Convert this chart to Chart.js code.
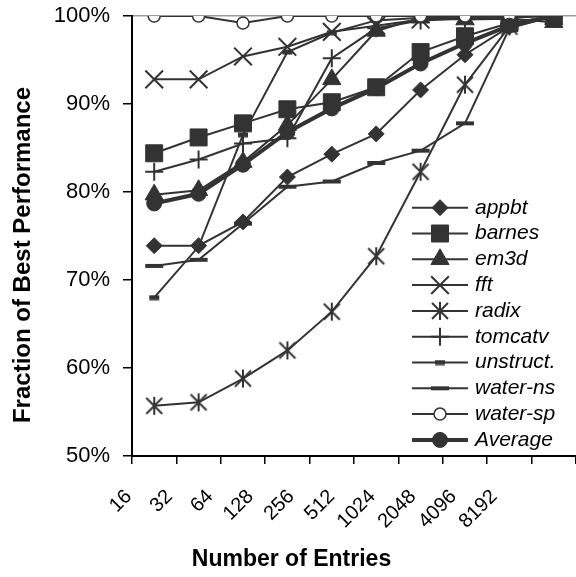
<!DOCTYPE html>
<html>
<head>
<meta charset="utf-8">
<script src="https://cdn.jsdelivr.net/npm/chart.js@4/dist/chart.umd.min.js"></script>
<style>
  html, body { margin: 0; padding: 0; background: #fff; }
  canvas { display: block; }
</style>
</head>
<body>
<canvas id="chart" width="576" height="577"></canvas>
<script>
// values (percent of best performance)
const entries = ["16", "32", "64", "128", "256", "512", "1024", "2048", "4096", "8192"];
const yTicks = [50, 60, 70, 80, 90, 100];

const appbt    = [73.9, 73.9, 76.6, 81.7, 84.3, 86.6, 91.6, 95.6, 98.8, 100];
const barnes   = [84.4, 86.2, 87.8, 89.4, 90.2, 91.9, 95.9, 97.7, 99.2, 100];
const em3d     = [79.7, 80.2, 83.4, 87.6, 92.8, 98.3, 99.8, 99.6, 99.7, 99.3];
const fft      = [92.8, 92.8, 95.4, 96.5, 98.2, 98.9, 99.6, 100, 100, 100];
const radix    = [55.7, 56.1, 58.8, 62.0, 66.4, 72.7, 82.3, 92.2, 98.8, 100];
const tomcatv  = [82.3, 83.7, 85.5, 86.1, 95.2, 98.6, 99.5, 99.7, 99.8, 100];
const unstruct = [68.0, 73.8, 86.5, 95.9, 98.1, 99.5, 99.8, 99.8, 100, 100];
const waterNs  = [71.6, 72.3, 76.4, 80.6, 81.2, 83.3, 84.7, 87.8, 98.6, 100];
const waterSp  = [100, 100, 99.2, 100, 100, 100, 100, 100, 100, 100];
const average  = [78.7, 79.8, 83.1, 86.8, 89.5, 91.8, 94.6, 96.9, 98.9, 100];

const ink = "#333333";
const fontFamily = "'Liberation Sans', Arial, Helvetica, sans-serif";

// marker shapes chart.js does not have
function makeMarker(w, h, draw) {
    const c = document.createElement("canvas");
    c.width = w; c.height = h;
    const g = c.getContext("2d");
    g.strokeStyle = ink; g.fillStyle = ink; g.lineWidth = 2;
    draw(g, w, h);
    return c;
}
const starMarker = makeMarker(20, 20, (g) => {
    g.beginPath();
    g.moveTo(2, 2); g.lineTo(18, 18);
    g.moveTo(18, 2); g.lineTo(2, 18);
    g.moveTo(10, 1); g.lineTo(10, 19);
    g.stroke();
});
const smallDash = makeMarker(12, 6, (g) => g.fillRect(1, 0.5, 10, 5));
const wideDash  = makeMarker(20, 6, (g) => g.fillRect(1, 1, 18, 4));

function series(label, data, style, radius, extra) {
    return Object.assign({
        label: label,
        data: data,
        borderColor: ink,
        borderWidth: 2,
        pointStyle: style,
        pointRadius: radius,
        pointHoverRadius: radius,
        pointBackgroundColor: ink,
        pointBorderColor: ink,
        pointBorderWidth: 1,
        tension: 0,
        fill: false
    }, extra || {});
}

const datasets = [
    series("appbt", appbt, "rectRot", 8),
    series("barnes", barnes, "rect", 12),
    series("em3d", em3d, "triangle", 10.5),
    series("fft", fft, "crossRot", 12.5, { pointBorderWidth: 2 }),
    series("radix", radix, starMarker, 10),
    series("tomcatv", tomcatv, "cross", 9, { pointBorderWidth: 2 }),
    series("unstruct.", unstruct, smallDash, 6),
    series("water-ns", waterNs, wideDash, 9),
    series("water-sp", waterSp, "circle", 6, { pointBackgroundColor: "#ffffff", pointBorderWidth: 1.5 }),
    series("Average", average, "circle", 7.5, { borderWidth: 4 })
];
// later series on top, like the original
datasets.forEach((d, i) => { d.order = datasets.length - i; });

// legend drawn inside the plot, bottom right
const insideLegend = {
    id: "insideLegend",
    afterDraw(chart) {
        const ctx = chart.ctx;
        const area = chart.chartArea;
        const x0 = area.right - 164, x1 = area.right - 108, xm = (x0 + x1) / 2, xt = area.right - 101;
        ctx.save();
        chart.data.datasets.forEach((ds, i) => {
            const y = 207.7 + i * 25.8;
            ctx.strokeStyle = ink;
            ctx.lineWidth = ds.borderWidth;
            ctx.beginPath();
            ctx.moveTo(x0, y);
            ctx.lineTo(x1, y);
            ctx.stroke();
            ctx.fillStyle = ds.pointBackgroundColor;
            ctx.strokeStyle = ink;
            ctx.lineWidth = ds.pointBorderWidth;
            Chart.helpers.drawPoint(ctx, {
                pointStyle: ds.pointStyle, radius: ds.pointRadius, rotation: 0, borderWidth: ds.pointBorderWidth
            }, xm, y);
            ctx.fillStyle = "#000";
            ctx.font = "italic 21px " + fontFamily;
            ctx.textAlign = "left";
            ctx.textBaseline = "middle";
            ctx.fillText(ds.label, xt, y);
        });
        ctx.restore();
    }
};

// axis titles sit off-centre in the original, so they are placed by hand
const axisTitles = {
    id: "axisTitles",
    afterDraw(chart) {
        const ctx = chart.ctx;
        ctx.save();
        ctx.fillStyle = "#000";
        ctx.font = "bold 23px " + fontFamily;
        ctx.textAlign = "center";
        ctx.textBaseline = "middle";
        ctx.fillText("Number of Entries", 291.5, 560);
        ctx.translate(23, 255);
        ctx.rotate(-Math.PI / 2);
        ctx.font = "bold 24px " + fontFamily;
        ctx.fillText("Fraction of Best Performance", 0, 0);
        ctx.restore();
    }
};

function noPad(s) {
    s.paddingLeft = 0; s.paddingRight = 0; s.paddingTop = 0; s.paddingBottom = 0;
}

new Chart(document.getElementById("chart"), {
    type: "line",
    data: { labels: entries, datasets: datasets },
    options: {
        responsive: false,
        animation: false,
        events: [],
        layout: { autoPadding: false, padding: { left: 52, top: 16, right: 0, bottom: 0 } },
        plugins: { legend: { display: false }, tooltip: { enabled: false } },
        scales: {
            x: {
                type: "category",
                offset: true,
                weight: 0,
                afterFit: (s) => { s.height = 8; noPad(s); },
                border: { color: "#000", width: 2 },
                grid: { offset: true, drawOnChartArea: false, tickLength: 8, color: "#000", lineWidth: 1.5 },
                ticks: { display: false }
            },
            // second bottom axis only carries the slanted size labels
            xl: {
                type: "linear",
                position: "bottom",
                weight: 1,
                min: 0.08,
                max: 11.016,
                afterBuildTicks: (s) => { s.ticks = entries.map((_, i) => ({ value: i })); },
                afterFit: (s) => { s.height = 113; noPad(s); },
                border: { display: false },
                grid: { display: false, drawTicks: false },
                ticks: {
                    autoSkip: false,
                    minRotation: 45,
                    maxRotation: 45,
                    padding: 21,
                    color: "#000",
                    font: { family: fontFamily, size: 20 },
                    callback: (v, i) => entries[i]
                }
            },
            y: {
                min: 50,
                max: 100,
                afterFit: (s) => { s.width = 80; noPad(s); },
                afterBuildTicks: (s) => { s.ticks = yTicks.map((v) => ({ value: v })); },
                border: { color: "#000", width: 2 },
                grid: {
                    color: (c) => (c.tick && c.tick.value === 100 ? "#9a9a9a" : "rgba(0,0,0,0)"),
                    tickColor: "#000",
                    tickLength: 9,
                    lineWidth: 1.5
                },
                ticks: {
                    padding: 13,
                    color: "#000",
                    font: { family: fontFamily, size: 22 },
                    callback: (v) => v + "%"
                }
            }
        }
    },
    plugins: [insideLegend, axisTitles]
});
</script>
</body>
</html>
